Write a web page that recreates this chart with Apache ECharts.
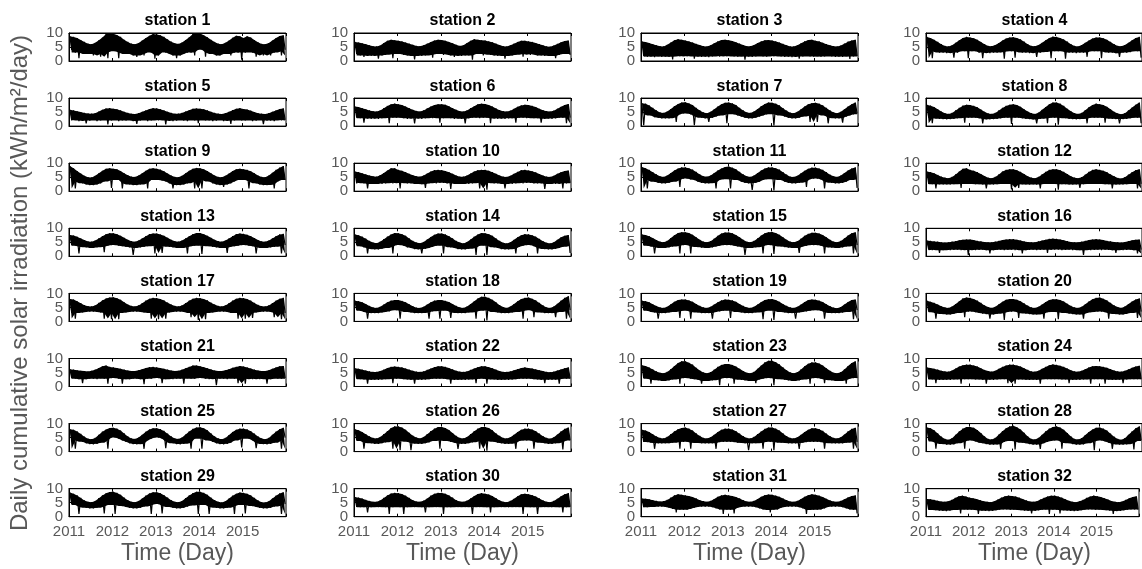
<!DOCTYPE html>
<html>
<head>
<meta charset="utf-8">
<title>Daily cumulative solar irradiation</title>
<script src="https://cdn.jsdelivr.net/npm/echarts@6/dist/echarts.min.js"></script>
<style>
  html, body { margin: 0; padding: 0; background: #fff; }
  #main { width: 1142px; height: 569px; }
</style>
</head>
<body>
<div id="main"></div>
<script>
// upper (hi) and lower (lo) edge of each daily trace, one value per month, Jan 2011 .. Dec 2015
const hi01 = [8.8,8.6,8.2,7.5,6.8,6.2,6.0,6.5,7.4,8.4,9.6,10, 9.7,9.3,8.6,7.6,6.8,6.2,6.0,6.4,7.3,8.2,9.0,9.6, 9.5,9.2,8.6,7.7,6.9,6.3,6.1,6.6,7.5,8.5,9.6,10, 9.8,9.2,8.5,7.6,6.8,6.2,6.0,6.5,7.3,8.3,9.0,8.8, 8.2,8.8,8.4,7.5,6.7,6.1,6.0,6.4,7.3,8.2,8.9,9.2];
const lo01 = [4,3,1,3,2.5,2.5,2,2.5,1.5,3,1,4, 3.5,1,3,2.5,2.5,2,1.5,2.5,2,3.5,3,0.8, 2,3.5,3,2.5,2,1,2,2.5,3,3,2,4, 4,1.5,3,2.5,2,2,2.5,2.5,2,3,3,0.5, 3,3.5,3,1.5,2.5,2,2.5,2,3,3.5,2,4];
const hi02 = [6.8,6.6,6.3,6,5.6,5.3,5.2,5.5,6.4,7.2,7.6,7.4, 7.2,7,6.6,6.2,5.8,5.4,5.3,5.6,6.2,6.8,7.3,7.6, 7.5,7.2,6.8,6.3,5.8,5.4,5.6,6.4,7.2,7.8,7.6,7.4, 7.3,7,6.7,6.2,5.7,5.3,5.2,5.6,6.2,6.8,7.2,7.2, 7,6.8,6.4,6,5.6,5.2,5.1,5.5,6.1,6.7,7.1,7.3];
const lo02 = [2.5,2,1.5,2,1.8,2,0.8,2,2.2,2.5,1,2.5, 2.5,2.2,2,1.8,0.6,2,1.8,2,2.2,1.2,2.5,2.5, 2.2,2.5,2,1.5,2,1.8,2,2,0.5,2.5,2.5,2, 2.5,2.2,2,1.8,2,0.8,1.8,2,2.2,2.5,1.5,2.5, 2.2,2.5,2,2,1.8,2,1.8,1,2.2,2.5,2.5,2.2];
const hi03 = [7,6.8,6.4,6,5.6,5.3,5.2,5.8,6.6,7.4,7.8,7.6, 7.3,7,6.6,6.1,5.7,5.3,5.2,5.6,6.3,7,7.5,7.6, 7.4,7.1,6.7,6.2,5.7,5.3,5.3,5.7,6.4,7,7.4,7.5, 7.3,7,6.6,6.1,5.6,5.2,5.2,5.6,6.3,7,7.5,7.6, 7.2,7,6.5,6,5.6,5.3,5.2,5.5,6.2,6.9,7.3,7.6];
const lo03 = [1.8,1.5,1.6,1.4,1.8,1.5,1.6,1.5,0.6,1.8,1.6,1.8, 1.6,1.8,0.8,1.6,1.5,1.6,1.4,1.6,1.8,1.5,1.8,1.6, 1.8,1.6,1.5,1.8,0.5,1.6,1.5,1.6,1.8,1.6,1.5,1.8, 1.6,1.8,1.6,1.5,1.6,1.4,1.6,0.8,1.6,1.8,1.6,1.5, 1.8,1.5,1.6,1.8,1.6,1.5,1.6,1.5,1.8,0.7,1.6,1.8];
const hi04 = [8.6,8.2,7.6,6.8,6,5.4,5.2,5.6,6.5,7.4,8.2,8.6, 8.4,8.1,7.6,6.8,6,5.4,5.3,5.7,6.4,7.3,8,8.4, 8.5,8.2,7.7,6.9,6,5.4,5.3,5.7,6.5,7.4,8.2,8.7, 8.6,8.2,7.7,6.9,6,5.4,5.2,5.7,6.5,7.3,8,8.4, 8.4,8.1,7.6,6.8,6,5.4,5.3,5.7,6.5,7.4,8.2,8.6];
const lo04 = [3.5,1,3.5,3,3,2.8,3,1.2,3,3.5,3.5,1, 3.5,3.5,3,1,3,2.8,3,3,3.2,0.8,3.5,3.5, 1.2,3.5,3,3,2.8,3,1.5,3,3.2,3.5,1,3.5, 3.5,3.5,0.8,3,3,2.8,3,3,1.5,3.5,3.5,3.5, 1,3.5,3,3,2.8,1.5,3,3,3.2,3.5,3.5,1.2];
const hi05 = [5.8,5.6,5.3,5,4.7,4.5,4.4,4.6,5.2,5.8,6.3,6.4, 6.2,6,5.6,5.1,4.7,4.4,4.3,4.6,5.1,5.6,6.1,6.4, 6.3,6,5.6,5.1,4.7,4.4,4.4,4.7,5.2,5.7,6.2,6.3, 6.2,6,5.6,5.1,4.7,4.4,4.3,4.6,5.1,5.7,6.2,6.4, 6.1,5.9,5.5,5,4.6,4.4,4.3,4.6,5.1,5.6,6.1,6.3];
const lo05 = [2,2.2,1.8,2,1,2,2.2,1.8,2,2.2,0.6,2, 2.2,1.8,2,2,2.2,1.8,0.8,2,2.2,1.8,2,2.2, 2,2.2,0.6,2,1.8,2,2.2,2,1.8,2.2,2,1, 2.2,2,2,1.8,2,2.2,1.8,2,0.8,2,2.2,2, 2,2.2,1.8,2,2.2,0.7,2,2,1.8,2.2,2,2.2];
const hi06 = [7,6.8,6.4,6,5.6,5.3,5.2,5.6,6.4,7.2,7.8,8, 7.8,7.5,7,6.4,5.8,5.4,5.2,5.6,6.3,7,7.5,7.8, 7.8,7.6,7.1,6.4,5.8,5.3,5.2,5.6,6.4,7.1,7.8,8, 7.9,7.5,7,6.3,5.7,5.3,5.2,5.5,6.2,6.9,7.4,7.6, 7.5,7.2,6.8,6.2,5.7,5.3,5.2,5.5,6.2,6.9,7.5,7.9];
const lo06 = [3,2.8,1.2,2.8,2.6,2.8,2.6,2.8,3,1,3,3, 3,2.8,2.6,2.8,1,2.8,2.6,2.8,3,2.8,3,1.2, 2.8,3,2.8,2.6,2.8,2.6,1,2.8,3,3,2.8,3, 3,1,2.8,2.6,2.8,2.6,2.8,2.8,1.2,3,3,2.8, 3,2.8,2.8,1.2,2.6,2.8,2.6,2.8,3,3,1,3];
const hi07 = [8.2,8,7.4,6.5,5.6,4.9,4.7,5.2,6.1,7.1,7.9,8.4, 8.5,8.1,7.5,6.5,5.6,4.9,4.6,5.1,6,7,7.8,8.3, 8.4,8.1,7.5,6.5,5.6,4.9,4.7,5.2,6.1,7.1,7.9,8.4, 8.3,8,7.4,6.4,5.5,4.8,4.6,5.1,6,7,7.8,8.2, 8.3,8,7.4,6.5,5.6,4.9,4.6,5.1,6,7,7.8,8.4];
const lo07 = [0.3,4.2,3.8,3.2,3,2.8,2.8,2.8,3.2,1.5,4.2,4.5, 4.5,4.2,0.3,3.4,3,2.8,1.5,3,3.4,3.8,4.2,1, 4.5,4.2,3.8,3.4,3,2.8,2.8,3,3.4,3.8,4.2,4.5, 0.2,4.2,3.8,3.4,3,2.8,2.8,3,3.4,3.8,1.5,4.5, 1.5,4.2,3.8,1,3,2.8,2.8,1.2,3.4,3.8,4.2,4.5];
const hi08 = [7.6,7.3,6.8,6,5.2,4.6,4.3,4.7,5.6,6.5,7.3,7.6, 7.5,7.2,6.7,5.9,5.1,4.5,4.3,4.7,5.6,6.5,7.2,7.6, 7.8,7.5,6.9,6,5.2,4.6,4.3,4.8,5.8,6.8,7.8,8.4, 8.4,8,7.2,6.2,5.3,4.6,4.3,4.7,5.7,6.7,7.5,8, 7.8,7.5,6.9,6,5.1,4.5,4.2,4.6,5.6,6.6,7.6,8.4];
const lo08 = [3,1,2.8,2.6,2.5,2.4,2.5,2.6,2.8,3,1.2,3, 3,3,2.8,1,2.5,2.4,2.5,2.6,2.8,3,3,0.8, 3,3,2.8,2.6,2.5,2.4,1,2.6,2.8,1,3,3, 0.5,3,2.8,2.6,2.5,2.4,2.5,2.6,1,3,3,3, 3,1.2,2.8,2.6,2.5,1,2.5,2.6,2.8,3,3,1];
const hi09 = [9,8.2,7.2,6.3,5.5,5,4.9,5.5,6.4,7.3,8,8.2, 8,7.8,7.2,6.4,5.7,5.2,5.1,5.6,6.4,7.3,8,8.2, 8,7.7,7.1,6.3,5.6,5.1,5,5.5,6.4,7.3,8,8.3, 8.2,7.8,7.2,6.4,5.6,5.1,5,5.5,6.3,7.2,7.8,8, 7.8,7.6,7.1,6.4,5.6,5.1,5,5.6,6.6,7.6,8.4,9];
const lo09 = [4,1,3.5,2.8,2.4,2.2,2.2,2.4,2.8,3.5,4,1.2, 4,4,1,2.8,2.4,2.2,2.2,2.4,2.8,1,4,4, 4,3.8,3.5,2.8,1,2.2,2.2,2.4,2.8,3.5,1,4, 1,4,3.5,2.8,2.4,2.2,1.5,2.4,2.8,3.5,4,4, 4,1,3.5,2.8,2.4,2.2,2.2,2.4,1,3.5,4,4];
const hi10 = [7,6.8,6.4,6,5.6,5.3,5.2,5.7,6.5,7.4,8.2,8.2, 7.6,7.3,6.8,6.2,5.7,5.3,5.2,5.6,6.3,7,7.5,7.6, 7.5,7.2,6.8,6.2,5.6,5.2,5.2,5.6,6.3,7,7.5,7.6, 7.6,7.3,6.8,6.2,5.6,5.2,5.1,5.5,6.2,6.9,7.5,7.6, 7.4,7.1,6.7,6.1,5.6,5.2,5.1,5.5,6.2,6.8,7.2,7.4];
const lo10 = [2.8,3,2.8,1,2.6,2.6,2.8,2.6,2.8,3,2.8,3, 1,3,2.8,2.8,2.6,2.6,2.5,1.2,2.8,3,2.8,3, 3,2.8,0.8,2.8,2.6,2.6,2.8,2.6,2.8,3,1,3, 0.5,3,2.8,2.8,2.6,1,2.8,2.6,2.8,3,2.8,3, 3,2.8,2.8,2.8,0.8,2.6,2.8,2.6,2.8,1,2.8,3];
const hi11 = [8.6,8.2,7.6,6.8,6,5.3,5.1,5.6,6.5,7.4,8.1,8.5, 8.5,8.2,7.7,6.9,6,5.3,5.2,5.6,6.5,7.4,8.1,8.6, 8.8,8.4,7.8,6.9,6,5.3,5.1,5.6,6.5,7.4,8.1,8.5, 8.5,8.2,7.7,6.8,5.9,5.2,5.1,5.5,6.4,7.3,8,8.4, 8.4,8.1,7.6,6.8,5.9,5.3,5.1,5.6,6.5,7.4,8.1,8.5];
const lo11 = [4.5,1,4,3.4,3,2.8,2.8,3,3.4,4,1.5,4.5, 4.5,4.2,4,3.4,3,2.8,2.8,3,1,4,4.3,4.5, 1,4.2,4,3.4,3,2.8,0.5,3,3.4,4,4.3,4.5, 0.3,4.2,4,3.4,3,2.8,2.8,3,3.4,1.5,4.3,4.5, 4.5,4.2,1,3.4,3,2.8,2.8,3,3.4,4,4.3,1.2];
const hi12 = [7,6.8,6.4,5.8,5.2,4.8,4.6,5.1,6,7,8,8.2, 7.6,7.3,6.8,6.1,5.4,4.8,4.6,5.1,6,7,7.6,7.8, 7.8,7.5,6.9,6.1,5.3,4.8,4.6,5.1,6,6.9,7.6,7.8, 7.8,7.5,6.9,6.1,5.3,4.8,4.6,5,5.9,6.9,7.6,7.8, 7.6,7.3,6.8,6,5.3,4.7,4.5,5,5.9,6.8,7.5,7.8];
const lo12 = [2.6,2.5,1,2.5,2.4,2.5,2.4,2.5,2.6,1.2,2.6,2.6, 2.6,2.5,2.5,2.4,1,2.5,2.4,2.5,2.6,2.6,2.6,0.6, 2.6,1.2,2.5,2.4,2.4,2.5,2.4,1,2.6,2.6,2.6,2.6, 0.5,2.5,2.5,2.4,2.4,2.5,1.2,2.5,2.6,2.6,2.6,2.6, 2.6,2.5,2.5,1,2.4,2.5,2.4,2.5,2.6,2.6,1,2.6];
const hi13 = [7.6,7.4,7,6.4,5.8,5.3,5.2,5.6,6.4,7.2,7.9,8.2, 8.2,7.9,7.3,6.6,5.9,5.4,5.2,5.6,6.4,7.2,7.9,8.1, 8.1,7.8,7.3,6.6,5.9,5.4,5.2,5.6,6.4,7.2,7.9,8.3, 8.3,7.9,7.3,6.6,5.9,5.4,5.2,5.6,6.4,7.2,7.9,8.1, 8,7.7,7.2,6.5,5.8,5.3,5.2,5.6,6.4,7.2,7.8,8];
const lo13 = [4,3.8,1,3.4,3.2,3,3,3.2,3.4,1.5,3.8,4, 4,3.8,3.6,3.4,3.2,0.5,3,3.2,3.4,3.6,3.8,1, 4,1.2,3.6,3.4,3.2,3,3,3.2,1,3.6,3.8,4, 0.8,3.8,3.6,3.4,3.2,3,3,1.2,3.4,3.6,3.8,4, 4,3.8,3.6,1,3.2,3,3,3.2,3.4,3.6,1,4];
const hi14 = [7.8,7.5,7,6.3,5.5,4.9,4.7,5.2,6.1,7,7.8,8.3, 8.2,7.9,7.3,6.4,5.5,4.9,4.7,5.1,6,6.9,7.7,8.1, 8.1,7.8,7.2,6.4,5.5,4.9,4.6,5.1,6,7,7.8,8.3, 8.2,7.9,7.3,6.4,5.5,4.8,4.6,5,5.9,6.8,7.5,7.9, 7.8,7.5,7,6.2,5.4,4.8,4.6,5,5.9,6.8,7.3,7.6];
const lo14 = [4,3.6,3.2,1,2.8,2.5,2.5,2.7,3,3.4,1,4, 4,3.8,3.2,3,2.6,2.5,1,2.7,3,3.4,3.8,4, 1,3.8,3.2,3,2.6,2.5,2.5,2.7,3,0.5,3.8,4, 0.5,3.8,3.2,3,2.6,2.5,2.5,2.7,1,3.4,3.8,4, 4,3.6,1,3,2.6,2.5,2.5,2.7,3,3.4,3.8,1.2];
const hi15 = [7.8,7.6,7.2,6.5,5.8,5.2,5,5.5,6.5,7.5,8.3,8.6, 8.6,8.3,7.7,6.8,5.9,5.2,5,5.4,6.3,7.3,8.1,8.5, 8.5,8.2,7.6,6.8,5.9,5.2,5,5.5,6.4,7.4,8.2,8.6, 8.7,8.3,7.7,6.8,5.9,5.2,5,5.4,6.3,7.3,8,8.4, 8.4,8.1,7.6,6.8,5.9,5.2,5,5.5,6.4,7.4,8.2,8.6];
const lo15 = [4,3.8,3.5,1,3.2,3,3,3.2,3.5,3.8,1,4, 4,1,3.5,3.3,3.1,3,3,3.2,3.5,3.8,4,4, 4,3.8,3.5,3.3,0.5,3,3,3.2,3.5,1,4,4, 0.8,3.8,3.5,3.3,3.1,3,3,1.2,3.5,3.8,4,4, 4,3.8,1,3.3,3.1,3,3,3.2,3.5,3.8,1,4];
const hi16 = [5.6,5.5,5.3,5.2,5,4.9,5,5.2,5.4,5.7,5.9,6, 6,5.8,5.5,5.3,5.1,5,5,5.2,5.5,5.8,6,6.1, 6.1,5.9,5.6,5.3,5.1,5,5,5.3,5.6,5.9,6.2,6.3, 6.2,6,5.7,5.4,5.1,5,5,5.2,5.5,5.8,6,6.1, 6,5.8,5.5,5.3,5.1,5,4.9,5.1,5.4,5.7,5.9,6];
const lo16 = [2.4,2.2,2.3,1.2,2.2,2.4,2.2,2.3,2.4,2.2,2.3,0.5, 2.4,2.2,2.3,2.4,2.2,1,2.2,2.3,2.4,2.2,2.3,2.4, 2.2,2.4,1,2.2,2.3,2.4,2.2,2.3,2.4,1.2,2.3,2.4, 2.4,2.2,2.3,2.4,2.2,2.4,2.2,0.5,2.4,2.2,2.3,2.4, 2.2,2.4,2.3,2.2,1.2,2.4,2.2,2.3,2.4,2.2,1,2.4];
const hi17 = [8,7.8,7.2,6.5,5.8,5.4,5.3,5.7,6.6,7.5,8.2,8.5, 8.6,8.3,7.7,6.8,6,5.5,5.3,5.7,6.5,7.4,8.1,8.4, 8.3,8,7.5,6.7,6,5.5,5.3,5.7,6.5,7.4,8.1,8.4, 8.3,8,7.5,6.7,6,5.5,5.3,5.7,6.5,7.4,8.1,8.4, 8.3,8,7.4,6.6,5.9,5.4,5.3,5.7,6.5,7.4,8.1,8.4];
const lo17 = [3,1,3,3.2,3.4,3.5,3.5,3.4,3.2,1,3,0.8, 3,0.8,3,3.2,3.4,3.5,3.5,3.4,3.2,3,1,3, 0.8,3,1,3.2,3.4,3.5,3.5,3.4,3,1.5,3,0.5, 3,0.8,3,3.2,3.4,3.5,3.5,3.4,3,3,1,3, 1,3,1.2,3.2,3.4,3.5,3.5,3.4,1.5,3,0.8,3];
const hi18 = [7.4,7.2,6.8,6.2,5.5,5,4.8,5.2,6,6.8,7.4,7.6, 7.6,7.3,6.8,6.1,5.4,4.9,4.8,5.2,6,6.8,7.4,7.6, 7.6,7.3,6.9,6.2,5.5,5,4.8,5.3,6.2,7.2,8.2,8.8, 8.8,8.4,7.7,6.8,5.8,5.1,4.8,5.3,6.2,7.2,8,8.4, 8.5,8.1,7.5,6.6,5.7,5,4.8,5.3,6.3,7.4,8.4,9];
const lo18 = [4,3.8,3.4,1,3,3,3,3.2,3.4,3.6,4,4, 1,3.8,3.4,3.2,3,3,3,3.2,1,3.6,3.8,1, 4,3.8,1.2,3.2,3,3,3,3.2,3.4,1,3.8,4, 0.3,4,3.4,3.2,3,3,3,3.2,3.4,3.6,1,4, 4,1.5,3.4,3.2,3,3,3,1.5,3.4,3.6,1,4];
const hi19 = [7.4,7.2,6.8,6.1,5.5,5,4.8,5.2,6.1,7,7.6,7.8, 7.8,7.5,7,6.2,5.5,5,4.8,5.2,6,6.8,7.5,7.8, 7.7,7.5,7,6.2,5.5,5,4.8,5.2,6,6.9,7.6,7.9, 8,7.6,7,6.2,5.5,5,4.8,5.2,6,6.9,7.6,7.8, 7.7,7.4,6.9,6.1,5.4,4.9,4.7,5.1,6,6.9,7.6,7.8];
const lo19 = [4,3.8,3.4,3.2,1,3,3,3.2,3.4,3.6,1.2,4, 3.8,1,3.4,3.2,3,3,3,1,3.4,3.6,3.8,4, 1.2,3.8,3.4,3.2,3,3,3,3.2,3.4,0.8,3.8,4, 0.5,3.8,3.4,3.2,3,3,1,3.2,3.4,3.6,3.8,4, 4,3.8,1,3.2,3,3,3,3.2,3.4,3.6,0.8,4];
const hi20 = [7.4,7,6.6,6,5.4,5,4.8,5.3,6.2,7.2,8.2,8.5, 8.4,8,7.4,6.6,5.7,5.1,4.8,5.2,6.1,7,7.7,8, 8,7.7,7.2,6.4,5.6,5,4.8,5.2,6,6.9,7.6,7.9, 7.9,7.6,7.1,6.3,5.5,5,4.8,5.2,6.1,7.1,7.9,8.4, 8.5,8.1,7.5,6.6,5.7,5.1,4.8,5.3,6.2,7.1,7.8,8.2];
const lo20 = [3.5,3.3,1,2.8,2.6,2.5,2.5,2.7,3,3.3,1.5,3.5, 3.5,3.3,3,2.8,2.6,1,2.5,2.7,3,0.5,3.4,3.5, 3.5,1.2,3,2.8,2.6,2.5,2.5,2.7,1,3.3,3.4,3.5, 0.8,3.3,3,2.8,2.6,2.5,2.5,1,3,3.3,3.4,3.5, 3.5,3.3,1,2.8,2.6,2.5,2.5,2.7,3,3.3,1.2,3.5];
const hi21 = [6.2,6,5.8,5.6,5.5,5.4,5.6,6,6.6,7.2,7.5,7, 6.8,6.6,6.3,6,5.7,5.5,5.5,5.8,6.2,6.6,6.9,7, 6.8,6.6,6.3,6,5.7,5.5,5.6,6,6.5,7,7.5,7.5, 7.2,6.9,6.5,6.1,5.7,5.5,5.5,5.8,6.2,6.7,7,7.3, 7.1,6.8,6.4,6,5.7,5.5,5.5,5.8,6.3,6.8,7.2,7.3];
const lo21 = [3,2.8,2.6,1.2,2.6,2.8,2.8,2.6,3,2.8,1,3, 3,2.8,1,2.6,2.6,2.8,2.8,2.6,0.8,2.8,2.8,3, 3,1.2,2.6,2.8,2.6,2.8,2.8,1,3,2.8,2.8,3, 3,2.8,2.6,2.8,0.5,2.8,2.8,2.6,3,2.8,1.2,3, 1,2.8,2.6,2.8,2.6,2.8,1,2.6,3,2.8,2.8,3];
const hi22 = [6.5,6.3,6,5.7,5.4,5.2,5.2,5.5,6,6.6,7,7.1, 7,6.8,6.4,6,5.6,5.3,5.2,5.4,5.9,6.4,6.9,7.2, 7.2,7,6.6,6.1,5.6,5.3,5.2,5.4,5.9,6.4,6.9,7.2, 7.2,6.9,6.5,6,5.5,5.2,5.2,5.4,5.8,6.2,6.6,6.8, 6.6,6.4,6.1,5.8,5.5,5.2,5.1,5.3,5.7,6.1,6.5,6.8];
const lo22 = [2.8,2.6,2.5,1,2.4,2.5,2.4,2.5,2.6,2.8,1.2,2.8, 2.8,2.6,2.5,2.4,1,2.5,2.4,2.5,2.6,2.8,2.8,2.8, 2.8,2.6,1,2.4,2.4,2.5,2.4,2.5,2.6,1.2,2.8,2.8, 1,2.6,2.5,2.4,2.4,2.5,2.4,2.5,2.6,2.8,2.8,2.8, 2.8,2.6,2.5,2.4,1.2,2.5,2.4,2.5,1,2.8,2.8,2.8];
const hi23 = [7.6,7.3,6.8,6.1,5.4,4.9,4.7,5.2,6.2,7.3,8.4,9, 9,8.5,7.8,6.7,5.7,5,4.7,5.1,6,7,7.7,8, 8,7.7,7.1,6.3,5.5,4.9,4.7,5.2,6.3,7.5,8.6,9.2, 9.2,8.7,7.9,6.8,5.8,5,4.7,5.1,6.1,7.2,8.1,8.6, 8.6,8.2,7.5,6.5,5.6,4.9,4.7,5.1,6.1,7.3,8.4,9];
const lo23 = [3,2.8,1,2.4,2.2,2,2,2.2,2.5,2.8,1,3, 3,2.8,2.6,2.4,1,2,2,2.2,2.5,0.5,3,3, 3,1,2.6,2.4,2.2,2,2,1.2,2.5,2.8,3,3, 0.5,2.8,2.6,2.4,2.2,2,2,2.2,2.5,2.8,1,3, 3,2.8,1.2,2.4,2.2,2,2,2.2,1,2.8,3,3];
const hi24 = [6.8,6.6,6.3,6,5.6,5.4,5.3,5.7,6.4,7.1,7.6,7.8, 7.8,7.5,7.1,6.5,5.9,5.5,5.3,5.6,6.3,7,7.5,7.8, 7.8,7.5,7.1,6.5,5.9,5.4,5.3,5.6,6.3,7,7.6,7.9, 7.7,7.4,7,6.4,5.8,5.4,5.3,5.6,6.2,6.8,7.2,7.3, 7.2,7,6.7,6.2,5.7,5.4,5.3,5.6,6.1,6.7,7.1,7.4];
const lo24 = [2.6,2.5,1.2,2.4,2.4,2.5,2.4,2.5,2.6,1,2.6,2.6, 2.6,2.5,2.5,2.4,1,2.5,2.4,2.5,2.6,2.6,1.2,2.6, 1,2.5,2.5,2.4,2.4,2.5,2.4,1,2.6,2.6,2.6,2.6, 2.6,2.5,2.5,1.2,2.4,2.5,2.4,2.5,2.6,1,2.6,2.6, 2.6,1,2.5,2.4,2.4,2.5,1.2,2.5,2.6,2.6,2.6,2.6];
const hi25 = [8,7.8,7.2,6.3,5.3,4.6,4.4,4.9,6,7.1,7.9,8.4, 8.5,8.2,7.5,6.5,5.4,4.7,4.5,5,6,7.1,7.9,8.3, 8.3,8,7.4,6.4,5.4,4.7,4.5,5,6.1,7.2,8.1,8.6, 8.7,8.3,7.6,6.5,5.4,4.7,4.4,4.9,5.9,7,7.8,8.2, 8.2,7.9,7.3,6.4,5.4,4.7,4.4,4.9,6,7.1,8,8.5];
const lo25 = [4.8,1,4,3.5,3,2.7,2.6,2.8,3.2,4,1,5, 5,4.6,4,3.5,3,2.7,2.6,2.8,1,4,4.6,5, 5,4.6,1.2,3.5,3,2.7,2.6,2.8,3.2,1,4.6,5, 1,4.6,4,3.5,3,2.7,2.6,2.8,3.2,4,4.6,1.5, 5,4.6,4,1.2,3,2.7,2.6,2.8,3.2,4,1,5];
const hi26 = [8,7.6,7,6.2,5.4,4.9,4.7,5.2,6.2,7.3,8.4,9, 9,8.6,7.8,6.7,5.7,5,4.7,5.2,6.2,7.3,8.2,8.8, 8.8,8.4,7.7,6.6,5.6,4.9,4.7,5.2,6.2,7.3,8.2,8.8, 8.8,8.4,7.6,6.5,5.6,4.9,4.7,5.1,6,7,7.8,8.2, 8.2,7.9,7.3,6.4,5.5,4.9,4.6,5.1,6.1,7.2,8.1,8.6];
const lo26 = [4,3.8,1,3.2,3,2.8,2.8,3,3.3,3.8,1,4, 0.5,3.8,3.5,0.5,3,2.8,2.8,3,3.3,3.8,4,1, 4,3.8,3.5,3.2,1,2.8,2.8,3,3.3,3.8,1,4, 0.3,3.8,3.5,3.2,3,2.8,2.8,3,1,3.8,4,4, 4,1,3.5,3.2,3,2.8,2.8,3,3.3,0.8,4,4];
const hi27 = [7.8,7.5,7,6.2,5.4,4.9,4.7,5.2,6.2,7.2,8,8.4, 8.6,8.2,7.5,6.5,5.6,4.9,4.7,5.1,6,7,7.8,8.2, 8.2,7.9,7.3,6.4,5.5,4.9,4.7,5.2,6.2,7.2,8.1,8.6, 8.6,8.2,7.5,6.5,5.5,4.9,4.7,5.1,6,7,7.8,8.3, 8.3,8,7.4,6.4,5.5,4.9,4.7,5.1,6.1,7.2,8.1,8.5];
const lo27 = [3.5,3.4,3.2,1,3,3,3,3,3.2,3.4,1,3.5, 3.5,1,3.2,3.1,3,3,3,3,1,3.4,3.5,3.5, 3.5,3.4,3.2,3.1,3,0.5,3,3,3.2,1,3.5,3.5, 0.5,3.4,3.2,3.1,3,3,3,1,3.2,3.4,3.5,3.5, 3.5,3.4,1,3.1,3,3,3,3,3.2,3.4,1,3.5];
const hi28 = [8.6,8.3,7.6,6.5,5.3,4.5,4.2,4.8,6,7.2,8.2,8.8, 8.8,8.5,7.7,6.6,5.4,4.5,4.3,4.9,6.1,7.3,8.3,9, 9.2,8.7,7.9,6.7,5.4,4.5,4.3,4.9,6,7.2,8.2,8.8, 9,8.6,7.8,6.6,5.4,4.5,4.3,4.8,5.9,7,7.9,8.5, 8.6,8.2,7.5,6.4,5.3,4.5,4.2,4.8,6,7.2,8.3,9];
const lo28 = [4,3.6,1,3,2.7,2.5,2.5,2.6,3,3.5,1,4, 4,3.6,3.2,3,2.7,2.5,2.5,2.6,1,3.5,3.8,4, 0.8,3.6,3.2,3,2.7,2.5,2.5,1,3,3.5,3.8,4, 4,1,3.2,3,2.7,2.5,2.5,2.6,3,3.5,0.5,4, 4,3.6,3.2,1,2.7,2.5,2.5,2.6,3,0.8,3.8,4];
const hi29 = [8.6,8.2,7.6,6.7,5.8,5.3,5.2,5.6,6.6,7.6,8.4,8.8, 8.9,8.5,7.8,6.8,5.9,5.3,5.2,5.6,6.5,7.5,8.3,8.7, 8.7,8.4,7.7,6.8,5.9,5.3,5.2,5.6,6.6,7.6,8.4,8.9, 8.9,8.5,7.8,6.8,5.9,5.3,5.1,5.5,6.5,7.5,8.2,8.6, 8.5,8.2,7.6,6.7,5.8,5.2,5.1,5.5,6.5,7.5,8.3,8.7];
const lo29 = [4.5,4.2,1,3.5,3.2,3,3,3.2,3.6,1.2,4.2,4.5, 1,4.2,3.8,3.5,3.2,3,3,3.2,3.6,4,1,4.5, 4.5,1.2,3.8,3.5,3.2,3,3,3.2,3.6,4,4.2,1, 4.5,4.2,1,3.5,3.2,3,3,3.2,3.6,1,4.2,4.5, 1.2,4.2,3.8,3.5,3.2,3,3,3.2,3.6,4,1,4.5];
const hi30 = [7,6.8,6.5,6,5.6,5.3,5.3,5.8,6.7,7.6,8.3,8.5, 8.4,8.1,7.5,6.7,5.9,5.4,5.3,5.7,6.5,7.5,8.2,8.5, 8.5,8.2,7.6,6.8,5.9,5.4,5.3,5.7,6.5,7.4,8.1,8.4, 8.2,7.9,7.4,6.6,5.8,5.3,5.2,5.6,6.4,7.3,8,8.2, 8,7.7,7.2,6.5,5.8,5.3,5.2,5.6,6.4,7.3,8,8.4];
const lo30 = [3.5,3.4,3.4,1.5,3.4,3.5,3.4,3.5,3.4,1,3.4,3.5, 3.4,1,3.4,3.5,3.4,3.5,3.4,1.5,3.4,3.5,3.4,3.5, 1,3.4,3.4,3.5,3.4,3.5,3.4,3.5,1,3.5,3.4,3.5, 3.4,1.5,3.4,3.5,3.4,3.5,3.4,3.5,3.4,3.5,1,3.5, 3.4,3.4,1,3.5,3.4,3.5,3.4,3.5,3.4,1.5,3.4,3.5];
const hi31 = [6.5,6.4,6.2,5.9,5.6,5.4,5.5,6,6.8,7.6,8,7.8, 7.6,7.4,7,6.5,5.9,5.5,5.3,5.6,6.3,7.1,7.6,7.8, 7.6,7.4,7,6.5,5.9,5.4,5.3,5.6,6.3,7.1,7.7,7.9, 7.8,7.5,7.1,6.5,5.9,5.4,5.3,5.6,6.3,7.1,7.7,8, 7.8,7.5,7,6.4,5.8,5.4,5.3,5.6,6.2,6.9,7.4,7.6];
const lo31 = [3.4,3.4,3.5,3.5,3.6,3.6,3.5,3.2,2.8,1.5,2.5,2.5, 2.5,2.8,3.2,3.5,3.6,3.6,3.6,3.4,3,2.6,1,2.5, 2.5,1.2,3.2,3.5,3.6,3.6,3.6,3.4,3,2.6,2.4,1.5, 2.5,2.6,3.2,3.5,3.6,3.6,3.6,3.4,3,1,2.4,2.5, 2.5,2.6,3,3.5,3.6,3.6,3.6,3.4,3,2.6,2.5,1.2];
const hi32 = [6.3,6.2,6,5.7,5.4,5.3,5.5,6,6.7,7.3,7.5,7.2, 6.8,6.6,6.3,5.9,5.5,5.3,5.2,5.5,6.1,6.8,7.3,7.5, 7.4,7.2,6.8,6.3,5.8,5.4,5.3,5.5,6.1,6.7,7.2,7.5, 7.5,7.2,6.8,6.2,5.7,5.3,5.2,5.5,6,6.7,7.2,7.5, 7.3,7,6.6,6.1,5.6,5.3,5.2,5.4,6,6.6,7,7.3];
const lo32 = [2.5,2.4,2.3,2.2,2.1,2,2.2,2.4,2.5,1.2,2.6,2.5, 2.5,2.4,1,2.2,2.1,2,2.1,2.3,2.5,2.6,2.6,2.5, 2.5,2.4,2.3,2.2,2.1,1.2,2.1,2.3,2.5,2.6,1,2.5, 2.5,1.2,2.3,2.2,2.1,2,2.1,2.3,2.5,2.6,2.6,2.5, 2.5,2.4,2.3,2.2,1,2,2.1,2.3,2.5,2.6,2.6,2.5];

const stationHi = [hi01, hi02, hi03, hi04, hi05, hi06, hi07, hi08, hi09, hi10, hi11, hi12, hi13, hi14, hi15, hi16,
                   hi17, hi18, hi19, hi20, hi21, hi22, hi23, hi24, hi25, hi26, hi27, hi28, hi29, hi30, hi31, hi32];
const stationLo = [lo01, lo02, lo03, lo04, lo05, lo06, lo07, lo08, lo09, lo10, lo11, lo12, lo13, lo14, lo15, lo16,
                   lo17, lo18, lo19, lo20, lo21, lo22, lo23, lo24, lo25, lo26, lo27, lo28, lo29, lo30, lo31, lo32];
const yearLabels = [2011, 2012, 2013, 2014, 2015];

const FONT = '"Liberation Sans", Arial, Helvetica, sans-serif';
const GREY = '#585858';
const colLeft = [69, 354, 641, 926];
const plotW = 217;
const plotH = 28;
const rowTop = r => 33 + r * 65.1;
const hiX = m => 2011 + (m + 0.25) / 12;
const loX = m => 2011 + (m + 0.75) / 12;

// hi in the first half of each month, lo in its second half -> zigzag like the daily trace
function trace(hi, lo) {
  const pts = [];
  hi.forEach((v, m) => {
    pts.push([hiX(m), v]);
    pts.push([loX(m), lo[m]]);
  });
  return pts;
}

// lower edge of the dense part of the band: isolated cloudy-day spikes removed (median of 3)
function bandFloor(lo) {
  const n = lo.length;
  return lo.map((v, m) => {
    const prev = m > 0 ? lo[m - 1] : lo[m + 1];
    const next = m < n - 1 ? lo[m + 1] : lo[m - 1];
    return [prev, v, next].sort((a, b) => a - b)[1];
  });
}

const grid = [], xAxis = [], yAxis = [], series = [], graphic = [];

stationHi.forEach((hi, i) => {
  const r = Math.floor(i / 4), c = i % 4;
  const top = rowTop(r);
  const bottomRow = r === 7;
  grid.push({
    left: colLeft[c], top: top, width: plotW, height: plotH,
    show: true, borderColor: '#000', borderWidth: 1, backgroundColor: 'transparent'
  });

  const xBase = {
    gridIndex: i, type: 'value', min: 2011, max: 2016, interval: 1,
    axisLine: {show: true, onZero: false, lineStyle: {color: '#000', width: 1}},
    axisTick: {inside: true, length: 3, lineStyle: {color: '#000'}},
    splitLine: {show: false}
  };
  xAxis.push(Object.assign({}, xBase, {
    position: 'bottom',
    axisLabel: {
      show: bottomRow, color: GREY, fontSize: 15, fontFamily: FONT, margin: 8,
      showMinLabel: true, showMaxLabel: true, hideOverlap: false,
      formatter: v => yearLabels.includes(v) ? String(v) : ''
    }
  }));
  xAxis.push(Object.assign({}, xBase, {position: 'top', axisLabel: {show: false}}));

  // left axis carries 0 and 10, a twin axis carries the middle 5 (the three labels touch)
  const yBase = {
    gridIndex: i, type: 'value', min: 0, max: 10, interval: 5, position: 'left',
    splitLine: {show: false}
  };
  yAxis.push(Object.assign({}, yBase, {
    axisLine: {show: true, onZero: false, lineStyle: {color: '#000', width: 1}},
    axisTick: {show: true, inside: true, length: 3, lineStyle: {color: '#000'}},
    axisLabel: {
      color: GREY, fontSize: 15, fontFamily: FONT, margin: 6,
      showMinLabel: true, showMaxLabel: true, hideOverlap: false,
      formatter: v => (v === 5 ? '' : String(v))
    }
  }));
  yAxis.push(Object.assign({}, yBase, {
    axisLine: {show: false, onZero: false},
    axisTick: {show: false},
    axisLabel: {
      color: GREY, fontSize: 15, fontFamily: FONT, margin: 6,
      showMinLabel: false, showMaxLabel: false, hideOverlap: false
    }
  }));

  const lo = stationLo[i];
  const floor = bandFloor(lo);
  // filled band between the upper edge and the spike-free lower edge
  series.push({
    type: 'custom', xAxisIndex: 2 * i, yAxisIndex: 2 * i, silent: true,
    data: [[2011, 0]],
    renderItem: (params, api) => {
      const upper = hi.map((v, m) => api.coord([hiX(m), v]));
      const lower = floor.map((v, m) => api.coord([loX(m), v])).reverse();
      return {type: 'polygon', shape: {points: upper.concat(lower)}, style: {fill: '#000'}};
    }
  });
  // the zigzag trace, which also carries the downward spikes
  series.push({
    type: 'line', xAxisIndex: 2 * i, yAxisIndex: 2 * i,
    data: trace(hi, lo),
    showSymbol: false, silent: true, sampling: null,
    lineStyle: {color: '#000', width: 1.2}
  });

  graphic.push({
    type: 'text', x: colLeft[c] + plotW / 2, y: top - 12, silent: true,
    style: {
      text: 'station ' + (i + 1), fill: '#000',
      font: 'bold 16px ' + FONT,
      align: 'center', verticalAlign: 'middle', textAlign: 'center', textVerticalAlign: 'middle'
    }
  });
});

colLeft.forEach(x => {
  graphic.push({
    type: 'text', x: x + plotW / 2, y: 554, silent: true,
    style: {
      text: 'Time (Day)', fill: GREY, font: '23px ' + FONT,
      align: 'center', verticalAlign: 'middle', textAlign: 'center', textVerticalAlign: 'middle'
    }
  });
});

graphic.push({
  type: 'text', x: 20, y: 283, rotation: Math.PI / 2, silent: true,
  style: {
    text: 'Daily cumulative solar irradiation (kWh/m\u00b2/day)', fill: GREY, font: '24px ' + FONT,
    align: 'center', verticalAlign: 'middle', textAlign: 'center', textVerticalAlign: 'middle'
  }
});

const chart = echarts.init(document.getElementById('main'), null, {renderer: 'canvas'});
chart.setOption({
  backgroundColor: '#fff',
  animation: false,
  grid, xAxis, yAxis, series, graphic
});
</script>
</body>
</html>
